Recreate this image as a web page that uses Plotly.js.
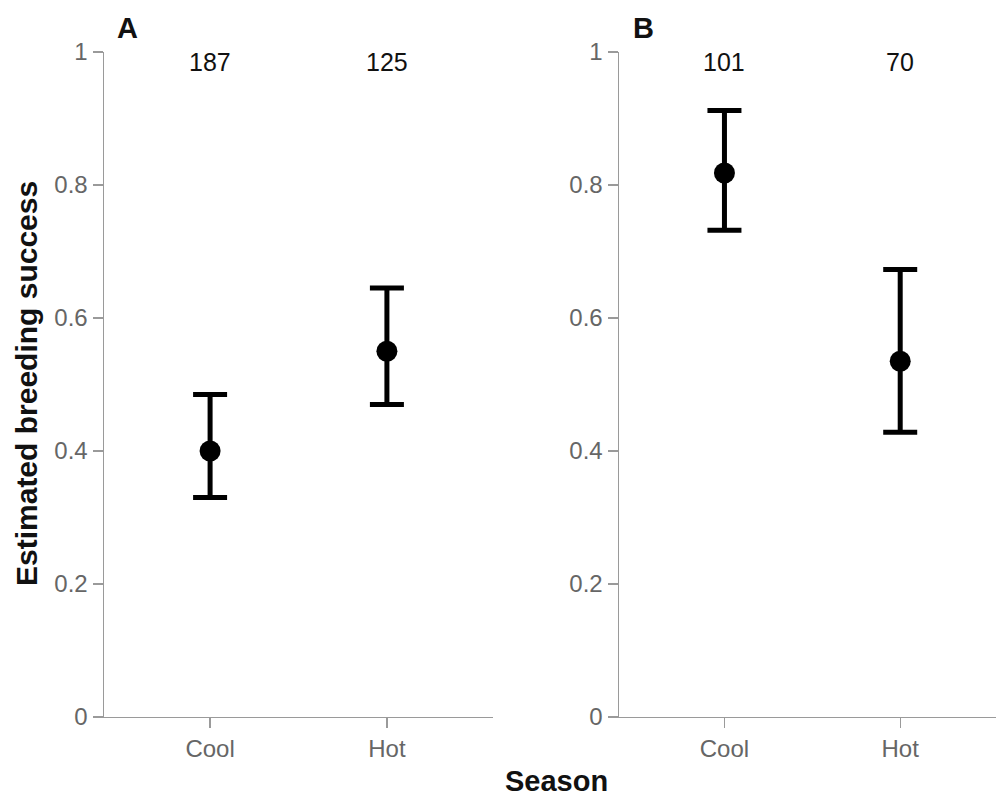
<!DOCTYPE html>
<html>
<head>
<meta charset="utf-8">
<script src="https://cdn.plot.ly/plotly-3.0.1.min.js"></script>
<style>html,body{margin:0;padding:0;background:#fff;}#chart{width:996px;height:801px;}</style>
</head>
<body>
<div id="chart"></div>
<script>
// Data
var seasons = ['Cool', 'Hot'];
var estA = [0.400, 0.550];
var lowerA = [0.330, 0.470];
var upperA = [0.485, 0.645];
var nA = [187, 125];
var estB = [0.818, 0.535];
var lowerB = [0.732, 0.428];
var upperB = [0.912, 0.673];
var nB = [101, 70];
var yTicks = [0, 0.2, 0.4, 0.6, 0.8, 1];
var yTickText = ['0', '0.2', '0.4', '0.6', '0.8', '1'];

function diff(a, b) { return a.map(function (v, i) { return +(v - b[i]).toFixed(4); }); }

var FONT = '"Liberation Sans", Arial, sans-serif';

function trace(est, lo, hi, xa, ya) {
  return {
    type: 'scatter', mode: 'markers', x: seasons, y: est, xaxis: xa, yaxis: ya,
    marker: {color: '#000', size: 21, symbol: 'circle'},
    error_y: {type: 'data', symmetric: false, array: diff(hi, est), arrayminus: diff(est, lo),
              color: '#000', thickness: 5, width: 17},
    showlegend: false, hoverinfo: 'x+y'
  };
}

var data = [trace(estA, lowerA, upperA, 'x', 'y'), trace(estB, lowerB, upperB, 'x2', 'y2')];

function xax(domain, range, anchor) {
  return {domain: domain, range: range, anchor: anchor, type: 'category',
    showline: true, linecolor: '#9a9a9a', linewidth: 1.5, showgrid: false, zeroline: false,
    ticks: 'outside', ticklen: 10, tickwidth: 1.2, tickcolor: '#9a9a9a',
    tickfont: {family: FONT, size: 24, color: '#666'}, fixedrange: true};
}
function yax(anchor) {
  return {domain: [0.1049, 0.9351], range: [0, 1], anchor: anchor,
    showline: true, linecolor: '#9a9a9a', linewidth: 1.5, showgrid: false, zeroline: false,
    ticks: 'outside', ticklen: 10, tickwidth: 1.2, tickcolor: '#9a9a9a',
    tickvals: yTicks, ticktext: yTickText,
    tickfont: {family: FONT, size: 24, color: '#666'}, fixedrange: true};
}

var annotations = [];
function nLabels(ns, xref) {
  ns.forEach(function (n, i) {
    annotations.push({xref: xref, yref: 'paper', x: seasons[i], y: 0.9226, text: String(n),
      showarrow: false, xanchor: 'center', yanchor: 'middle',
      font: {family: FONT, size: 25, color: '#111'}});
  });
}
nLabels(nA, 'x');
nLabels(nB, 'x2');
annotations.push({xref: 'paper', yref: 'paper', x: 128 / 996, y: 0.965, text: 'A', showarrow: false,
  xanchor: 'center', yanchor: 'middle', font: {family: FONT, size: 29, color: '#111', weight: 'bold'}});
annotations.push({xref: 'paper', yref: 'paper', x: 643 / 996, y: 0.965, text: 'B', showarrow: false,
  xanchor: 'center', yanchor: 'middle', font: {family: FONT, size: 29, color: '#111', weight: 'bold'}});
annotations.push({xref: 'paper', yref: 'paper', x: 27 / 996, y: (801 - 384) / 801, text: 'Estimated breeding success',
  showarrow: false, textangle: -90, xanchor: 'center', yanchor: 'middle',
  font: {family: FONT, size: 30, color: '#111', weight: 'bold'}});
annotations.push({xref: 'paper', yref: 'paper', x: 556 / 996, y: (801 - 781) / 801, text: 'Season',
  showarrow: false, xanchor: 'center', yanchor: 'middle',
  font: {family: FONT, size: 29, color: '#111', weight: 'bold'}});

var layout = {
  width: 996, height: 801, margin: {l: 0, r: 0, t: 0, b: 0},
  paper_bgcolor: '#fff', plot_bgcolor: '#fff', showlegend: false,
  xaxis: xax([104 / 996, 493 / 996], [-0.6, 1.6], 'y'),
  yaxis: yax('x'),
  xaxis2: xax([619 / 996, 1], [-0.6, 1.545], 'y2'),
  yaxis2: yax('x2'),
  annotations: annotations
};

Plotly.newPlot('chart', data, layout, {displayModeBar: false, staticPlot: true});
</script>
</body>
</html>
